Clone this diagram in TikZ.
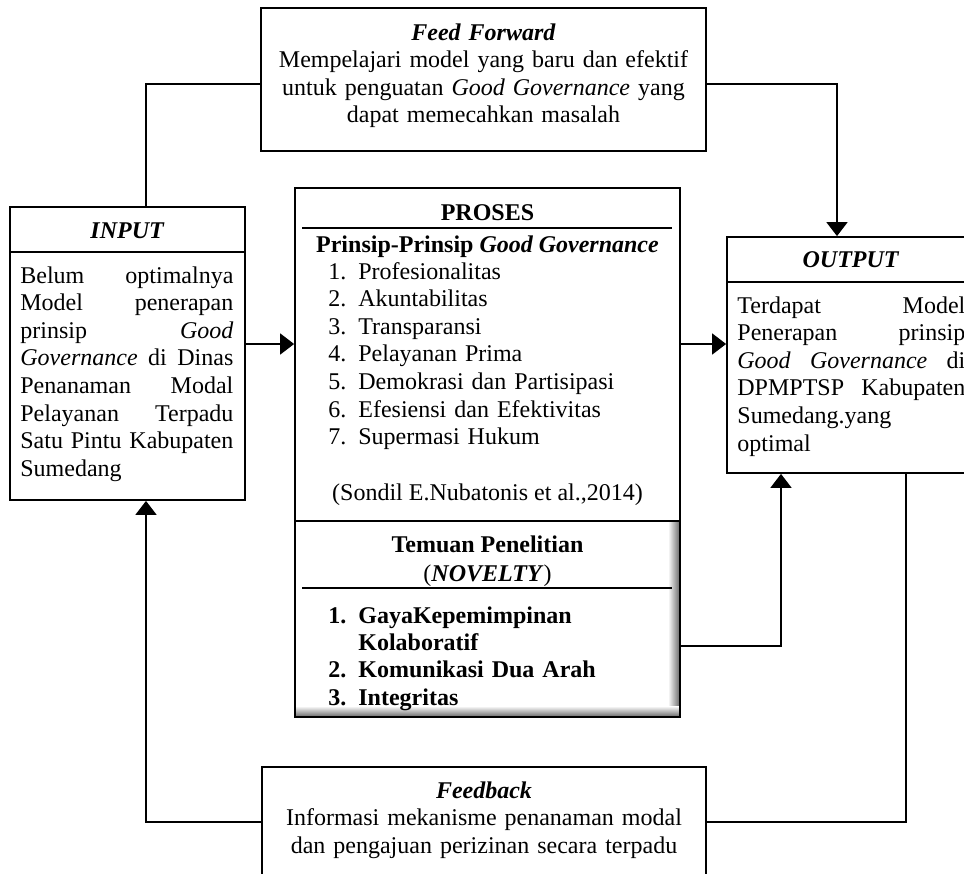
\documentclass[tikz,border=0pt]{standalone}
\usepackage{fontspec}
\setmainfont{Liberation Serif}
\usetikzlibrary{fit,arrows.meta}
\tikzset{
  box/.style={draw, line width=0.9pt, inner sep=0pt},
  ln/.style={line width=0.9pt},
  arr/.style={line width=0.9pt, -{Triangle[width=10.5pt,length=7pt]}},
  txt/.style={inner sep=0pt, font=\fontsize{12}{13.8}\selectfont},
  jtxt/.style={txt, align=justify, anchor=base west,
    execute at begin node={\tolerance=10000\hbadness=10000\hyphenpenalty=10000}},
  ctxt/.style={txt, align=center, anchor=base},
}
\begin{document}
\begin{tikzpicture}[x=0.5pt,y=-0.5pt]
\useasboundingbox (0,0) rectangle (964,873);
\clip (0,0) rectangle (964,873);
% boxes
\node[box, fit={(261,8) (706,151)}] (ff) {};
\node[box, fit={(10,207) (245,500)}] (input) {};
\node[box, fit={(295,188) (680,521)}] (proses) {};
\shade[left color=white, right color=black!60] (668,521) rectangle (680,717);
\shade[top color=white, bottom color=black!60] (295,706) rectangle (680,717);
\node[box, fit={(295,521) (680,717)}] (temuan) {};
\node[box, fit={(727,237) (975,473)}] (output) {};
\node[box, fit={(262,767) (706,900)}] (fb) {};
% dividers
\draw[ln] (10,252) -- (245,252);
\draw[ln] (727,282) -- (975,282);
\draw[line width=1.2pt] (302,228) -- (672,228);
\draw[line width=1.2pt] (302,588) -- (672,588);
% Feed Forward text
\node[ctxt, text width=220pt] (fft) at (483.5,40) {\textbf{\textit{Feed Forward}}\\
Mempelajari model yang baru dan efektif\\
untuk penguatan \textit{Good Governance} yang\\
dapat memecahkan masalah};
% INPUT
\node[ctxt] (inh) at (127.5,238) {\textbf{\textit{INPUT}}};
\node[jtxt, text width=106.5pt] (inb) at (20,283) {Belum optimalnya\linebreak
Model penerapan\linebreak prinsip \textit{Good}\linebreak
\textit{Governance} di Dinas\linebreak Penanaman Modal\linebreak
Pelayanan Terpadu\linebreak Satu Pintu Kabupaten\linebreak Sumedang};
% OUTPUT
\node[ctxt] (outh) at (851,267) {\textbf{\textit{OUTPUT}}};
\node[jtxt, text width=114pt] (outb) at (737,313) {Terdapat Model\linebreak
Penerapan prinsip\linebreak \textit{Good Governance} di\linebreak
DPMPTSP Kabupaten\linebreak Sumedang.yang\hfil\break optimal};
% PROSES
\node[ctxt] (ph) at (487.5,220) {\textbf{PROSES}};
\node[ctxt] (pp) at (487.5,252) {\textbf{Prinsip-Prinsip \textit{Good Governance}}};
\node[txt, align=left, anchor=base west, text width=170pt] (plist) at (328,279) {%
\makebox[15pt][l]{1.}Profesionalitas\\
\makebox[15pt][l]{2.}Akuntabilitas\\
\makebox[15pt][l]{3.}Transparansi\\
\makebox[15pt][l]{4.}Pelayanan Prima\\
\makebox[15pt][l]{5.}Demokrasi dan Partisipasi\\
\makebox[15pt][l]{6.}Efesiensi dan Efektivitas\\
\makebox[15pt][l]{7.}Supermasi Hukum};
\node[ctxt] (cite) at (487.5,500) {(Sondil E.Nubatonis et al.,2014)};
% Temuan
\node[ctxt] (th1) at (487.5,552) {\textbf{Temuan Penelitian}};
\node[ctxt] (th2) at (487.5,581) {(\textbf{\textit{NOVELTY}})};
\node[txt, align=left, anchor=base west, text width=170pt, font=\fontsize{12}{13.7}\selectfont\bfseries] (tlist) at (328,623) {%
\makebox[15pt][l]{1.}GayaKepemimpinan\\
\hspace*{15pt}Kolaboratif\\
\makebox[15pt][l]{2.}Komunikasi Dua Arah\\
\makebox[15pt][l]{3.}Integritas};
% Feedback
\node[ctxt, text width=220pt] (fbt) at (484,798) {\textbf{\textit{Feedback}}\\
Informasi mekanisme penanaman modal\\
dan pengajuan perizinan secara terpadu};
% connectors
\coordinate (yA) at (0,84);
\coordinate (xL) at (146,0);
\coordinate (xR) at (837,0);
\coordinate (yM) at (0,344);
\coordinate (yT) at (0,646);
\coordinate (xT) at (781,0);
\coordinate (yF) at (0,822);
\coordinate (xF) at (906,0);
\draw[ln] (ff.west |- yA) -| (input.north -| xL);
\draw[arr] (ff.east |- yA) -| (output.north -| xR);
\draw[arr] (input.east |- yM) -- (proses.west |- yM);
\draw[arr] (proses.east |- yM) -- (output.west |- yM);
\draw[arr] (temuan.east |- yT) -| (output.south -| xT);
\draw[ln] (fb.east |- yF) -| (output.south -| xF);
\draw[arr] (fb.west |- yF) -| (input.south -| xL);
\end{tikzpicture}
\end{document}
